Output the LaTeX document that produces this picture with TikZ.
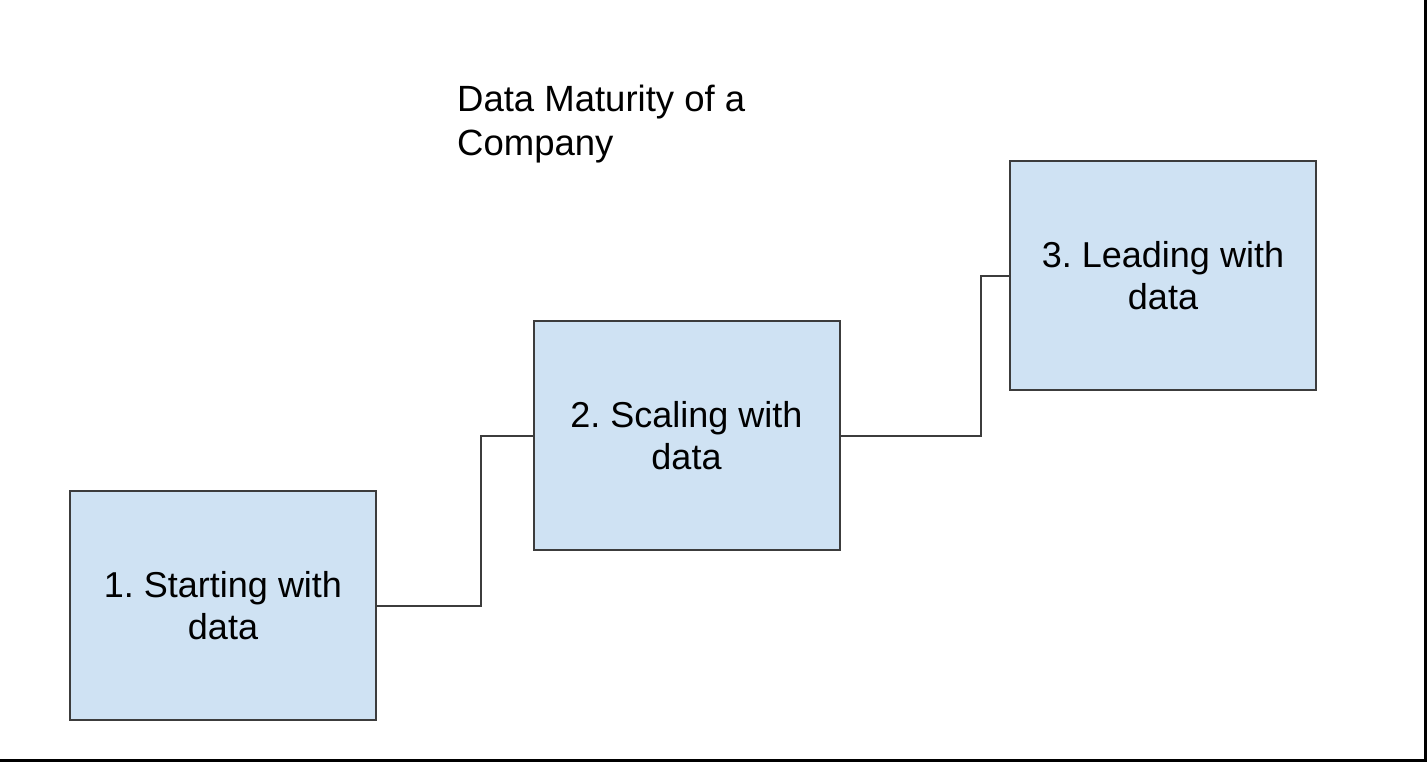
\documentclass[tikz,border=0pt]{standalone}
\usepackage{fontspec}
\setmainfont{Liberation Sans}
\usepackage{xcolor}
\usepackage{tikz}
\usetikzlibrary{positioning, calc}
\definecolor{stageblue}{HTML}{CFE2F3}
\definecolor{edgegray}{RGB}{60,60,60}
\frenchspacing

\begin{document}
\begin{tikzpicture}[x=1pt, y=-1pt, every node/.style={font=\fontsize{36}{42}\selectfont},
  stagebox/.style={draw=edgegray, fill=stageblue, line width=2pt, minimum width=306pt,
                   minimum height=229pt, align=center, inner sep=0pt},
  link/.style={draw=edgegray, line width=2pt}]
  \useasboundingbox (0,0) rectangle (1427,762);

  % Frame (right and bottom edges)
  \draw[line width=3pt] (0,760.5) -- (1425.5,760.5) -- (1425.5,0);

  % Title
  \node[anchor=north west, inner sep=0pt, align=left, font=\fontsize{36.5}{44}\selectfont]
    (title) at (457,85) {Data Maturity of a\\Company};

  % Stages
  \node[stagebox] (s1) at (223,605.5) {1. Starting with\\data};
  \node[stagebox] (s2) at (686.5,435.5) {2. Scaling with\\data};
  \node[stagebox] (s3) at (1163,275.5) {3. Leading with\\data};

  % Steps between stages
  \draw[link] (s1.east) -- ++(104,0) |- (s2.west);
  \draw[link] (s2.east) -- ++(140,0) |- (s3.west);

\end{tikzpicture}
\end{document}
